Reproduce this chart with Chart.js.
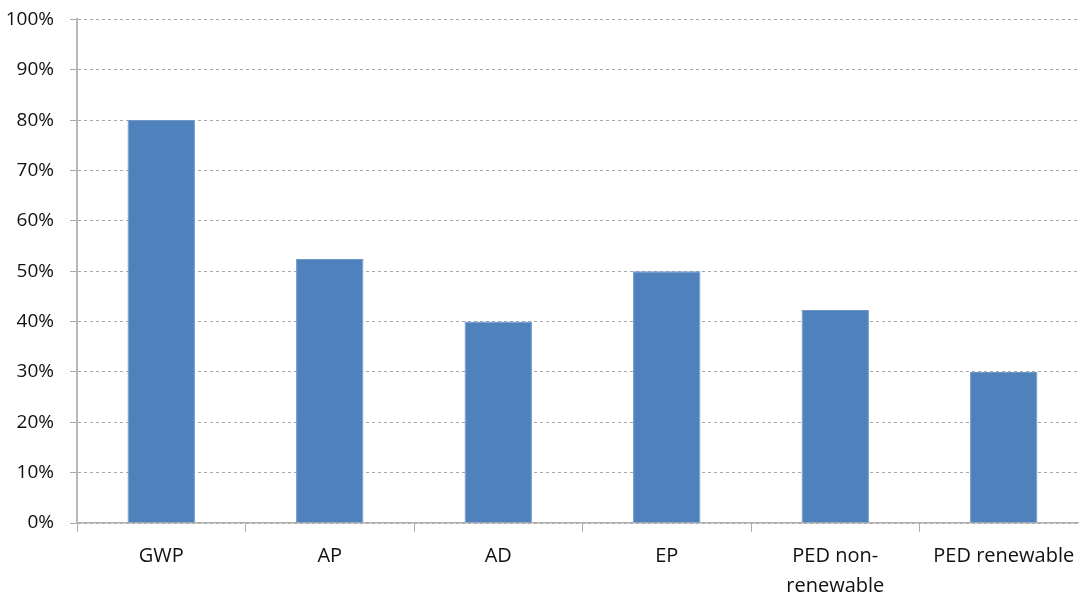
<!DOCTYPE html>
<html>
<head>
<meta charset="utf-8">
<script src="https://cdn.jsdelivr.net/npm/chart.js@4.4.0/dist/chart.umd.min.js"></script>
<style>
    html, body { margin: 0; padding: 0; background: #fff; overflow: hidden; }
    #wrap { width: 1090px; height: 607px; margin-top: -8px; }
</style>
</head>
<body>
<div id="wrap"><canvas id="impactChart"></canvas></div>
<script>
// Categories and values (share, %)
const categories = ['GWP', 'AP', 'AD', 'EP', ['PED non-', 'renewable'], 'PED renewable'];
const shares = [80, 52.4, 40, 50, 42.3, 30];
const yTicks = [0, 10, 20, 30, 40, 50, 60, 70, 80, 90, 100];

const fontFamily = '"Open Sans", "Liberation Sans", sans-serif';

new Chart(document.getElementById('impactChart'), {
    type: 'bar',
    data: {
        labels: categories,
        datasets: [{
            data: shares,
            backgroundColor: '#4f81bd',
            borderColor: '#6f97c8',
            borderWidth: 1,
            barPercentage: 0.4,
            categoryPercentage: 1.0
        }]
    },
    options: {
        responsive: true,
        maintainAspectRatio: false,
        animation: false,
        layout: { padding: { top: 0, right: 2, left: 0, bottom: 0 } },
        plugins: {
            legend: { display: false },
            tooltip: { enabled: false }
        },
        scales: {
            x: {
                grid: {
                    display: true,
                    drawOnChartArea: false,
                    offset: true,
                    color: '#b0b0b0',
                    tickLength: 9
                },
                border: { color: '#b0b0b0', width: 1.5 },
                ticks: {
                    color: '#111',
                    font: { family: fontFamily, size: 20, lineHeight: 1.5 },
                    padding: 9,
                    maxRotation: 0,
                    autoSkip: false
                },
                afterFit: function(axis) { axis.height = 76; }
            },
            y: {
                min: 0,
                max: 100,
                afterBuildTicks: function(axis) {
                    axis.ticks = yTicks.map(v => ({ value: v }));
                },
                grid: {
                    color: '#a8a8a8',
                    lineWidth: 1,
                    tickLength: 7,
                    tickColor: '#a8a8a8',
                    tickBorderDash: [],
                    drawTicks: true
                },
                border: { color: '#b8b8b8', width: 2, dash: [3, 3] },
                ticks: {
                    color: '#111',
                    font: { family: fontFamily, size: 19 },
                    padding: 16,
                    callback: function(v) { return v + '%'; }
                },
                afterFit: function(axis) { axis.width = 77; }
            }
        }
    }
});
</script>
</body>
</html>
